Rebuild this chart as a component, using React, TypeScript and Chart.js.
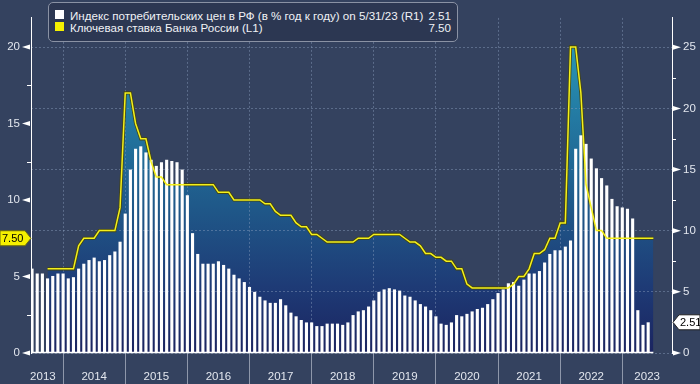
import React, { useEffect, useRef } from 'react';
import { Chart, registerables } from 'chart.js';

Chart.register(...registerables);

// Months are counted from January 2013; a monthly value sits at the end of its month.
const yearLabels = ['2013', '2014', '2015', '2016', '2017', '2018', '2019', '2020', '2021', '2022', '2023'];

const cpiFirstMonth = 5; // June 2013
const cpiValues = [
  6.9, 6.5, 6.5, 6.1, 6.3, 6.5, 6.5,
  6.1, 6.2, 6.9, 7.3, 7.6, 7.8, 7.5, 7.6, 8.0, 8.3, 9.1, 11.4,
  15.0, 16.7, 16.9, 16.4, 15.8, 15.3, 15.6, 15.8, 15.7, 15.6, 15.0, 12.9,
  9.8, 8.1, 7.3, 7.3, 7.3, 7.5, 7.2, 6.9, 6.4, 6.1, 5.8, 5.4,
  5.0, 4.6, 4.3, 4.1, 4.1, 4.4, 3.9, 3.3, 3.0, 2.7, 2.5, 2.5,
  2.2, 2.2, 2.4, 2.4, 2.4, 2.3, 2.5, 3.1, 3.4, 3.5, 3.8, 4.3,
  5.0, 5.2, 5.3, 5.2, 5.1, 4.7, 4.6, 4.3, 4.0, 3.8, 3.5, 3.0,
  2.4, 2.3, 2.5, 3.1, 3.0, 3.2, 3.4, 3.6, 3.7, 4.0, 4.4, 4.9,
  5.2, 5.7, 5.8, 5.5, 6.0, 6.5, 6.5, 6.7, 7.4, 8.1, 8.4, 8.4,
  8.7, 9.2, 16.7, 17.8, 17.1, 15.9, 15.1, 14.3, 13.7, 12.6, 12.0, 11.9,
  11.8, 11.0, 3.5, 2.3, 2.51,
];

const rateFirstMonth = 8; // September 2013
const rateValues = [
  5.5, 5.5, 5.5, 5.5,
  5.5, 5.5, 7.0, 7.5, 7.5, 7.5, 8.0, 8.0, 8.0, 8.0, 9.5, 17.0,
  17.0, 15.0, 14.0, 14.0, 12.5, 11.5, 11.5, 11.0, 11.0, 11.0, 11.0, 11.0,
  11.0, 11.0, 11.0, 11.0, 11.0, 10.5, 10.5, 10.5, 10.0, 10.0, 10.0, 10.0,
  10.0, 10.0, 9.75, 9.75, 9.25, 9.0, 9.0, 9.0, 8.5, 8.25, 8.25, 7.75,
  7.75, 7.5, 7.25, 7.25, 7.25, 7.25, 7.25, 7.25, 7.5, 7.5, 7.5, 7.75,
  7.75, 7.75, 7.75, 7.75, 7.75, 7.5, 7.25, 7.25, 7.0, 6.5, 6.5, 6.25,
  6.25, 6.0, 6.0, 5.5, 5.5, 4.5, 4.25, 4.25, 4.25, 4.25, 4.25, 4.25,
  4.25, 4.25, 4.5, 5.0, 5.0, 5.5, 6.5, 6.5, 6.75, 7.5, 7.5, 8.5,
  8.5, 20.0, 20.0, 17.0, 11.0, 9.5, 8.0, 8.0, 7.5, 7.5, 7.5, 7.5,
  7.5, 7.5, 7.5, 7.5, 7.5, 7.5,
];

const leftTicks = [0, 5, 10, 15, 20];
const rightTicks = [0, 5, 10, 15, 20, 25];
const leftMinorTicks = [2.5, 7.5, 12.5, 17.5];
const rightMinorTicks = [2.5, 7.5, 12.5, 17.5, 22.5];

const cpiLabel = 'Индекс потребительских цен в РФ (в % год к году) on 5/31/23 (R1)';
const rateLabel = 'Ключевая ставка Банка России (L1)';

// layout / style
const X_MIN = 5.8;
const X_MAX = 129.6;
const LEFT_MAX = 21.9;
const RIGHT_MAX = 27.4;
const BG = '#34425f';
const FONT = 'Liberation Sans';
const GRID = 'rgba(140,160,190,0.45)';
const TEXT = '#e2e6ee';

const cpiPoints = cpiValues.map((v, i) => ({ x: cpiFirstMonth + i + 1, y: v }));
const ratePoints = rateValues.map((v, i) => ({ x: rateFirstMonth + i + 1, y: v }));

type XT = { value: number; label: string; boundary: boolean };
const xTicks: XT[] = [];
yearLabels.forEach((lab, k) => {
  const a = Math.max(k * 12, X_MIN);
  const b = Math.min(k * 12 + 12, X_MAX);
  if (k > 0) xTicks.push({ value: k * 12, label: '', boundary: true });
  xTicks.push({ value: (a + b) / 2 - (k === 0 ? 0.8 : 0), label: lab, boundary: false });
});
xTicks.sort((p, q) => p.value - q.value);
const isBoundary = (v: number) => xTicks.some((t) => t.boundary && Math.abs(t.value - v) < 1e-6);

const decor = {
  id: 'decor',
  afterDatasetsDraw(chart: any) {
    const { ctx, chartArea, scales } = chart;
    const xEnd = scales.x.getPixelForValue(rateFirstMonth + rateValues.length);
    ctx.save();
    ctx.strokeStyle = '#ffffff';
    ctx.lineWidth = 1.5;
    ctx.beginPath();
    ctx.moveTo(chartArea.left, chartArea.bottom - 0.5);
    ctx.lineTo(xEnd, chartArea.bottom - 0.5);
    ctx.stroke();
    ctx.restore();
  },
  afterDraw(chart: any) {
    const { ctx, chartArea, scales } = chart;
    const yL = scales.y;
    const yR = scales.y1;
    const L = chartArea.left;
    const R = chartArea.right;
    ctx.save();
    ctx.fillStyle = '#ffffff';
    ctx.strokeStyle = '#ffffff';
    ctx.lineWidth = 1;
    leftTicks.forEach((v) => {
      const y = yL.getPixelForValue(v);
      ctx.beginPath();
      ctx.moveTo(L - 9, y);
      ctx.lineTo(L - 1, y - 2.5);
      ctx.lineTo(L - 1, y + 2.5);
      ctx.closePath();
      ctx.fill();
    });
    leftMinorTicks.forEach((v) => {
      const y = Math.round(yL.getPixelForValue(v)) + 0.5;
      ctx.beginPath();
      ctx.moveTo(L - 4, y);
      ctx.lineTo(L, y);
      ctx.stroke();
    });
    rightTicks.forEach((v) => {
      const y = yR.getPixelForValue(v);
      ctx.beginPath();
      ctx.moveTo(R + 9, y);
      ctx.lineTo(R + 1, y - 2.5);
      ctx.lineTo(R + 1, y + 2.5);
      ctx.closePath();
      ctx.fill();
    });
    rightMinorTicks.forEach((v) => {
      const y = Math.round(yR.getPixelForValue(v)) + 0.5;
      ctx.beginPath();
      ctx.moveTo(R, y);
      ctx.lineTo(R + 4, y);
      ctx.stroke();
    });

    // value tags
    ctx.font = `11px "${FONT}"`;
    ctx.textBaseline = 'middle';
    const rateLast = rateValues[rateValues.length - 1];
    const cy1 = yL.getPixelForValue(rateLast);
    ctx.fillStyle = '#f5f000';
    ctx.strokeStyle = '#6b6a10';
    ctx.beginPath();
    ctx.moveTo(0, cy1 - 7.5);
    ctx.lineTo(L - 6, cy1 - 7.5);
    ctx.lineTo(L, cy1);
    ctx.lineTo(L - 6, cy1 + 7.5);
    ctx.lineTo(0, cy1 + 7.5);
    ctx.closePath();
    ctx.fill();
    ctx.stroke();
    ctx.fillStyle = '#000000';
    ctx.textAlign = 'left';
    ctx.fillText(rateLast.toFixed(2), 2, cy1 + 0.5);

    const cpiLast = cpiValues[cpiValues.length - 1];
    const cy2 = yR.getPixelForValue(cpiLast);
    ctx.fillStyle = '#ffffff';
    ctx.strokeStyle = '#222222';
    ctx.beginPath();
    ctx.moveTo(R + 1, cy2);
    ctx.lineTo(R + 7, cy2 - 7.5);
    ctx.lineTo(700, cy2 - 7.5);
    ctx.lineTo(700, cy2 + 7.5);
    ctx.lineTo(R + 7, cy2 + 7.5);
    ctx.closePath();
    ctx.fill();
    ctx.stroke();
    ctx.fillStyle = '#000000';
    ctx.fillText(cpiLast.toFixed(2), R + 8, cy2 + 0.5);
    ctx.restore();
  },
};

export default function App() {
  const canvasRef = useRef<HTMLCanvasElement>(null);

  useEffect(() => {
    const canvas = canvasRef.current;
    if (!canvas) return;
    Chart.defaults.font.family = FONT;
    Chart.defaults.font.size = 11;

    const gradient = (c: any) => {
      const chart = c.chart;
      const area = chart.chartArea;
      if (!area) return '#1f5a8a';
      const g = chart.ctx.createLinearGradient(0, area.top, 0, area.bottom);
      g.addColorStop(0, '#2ba0bb');
      g.addColorStop(0.3, '#2379a2');
      g.addColorStop(0.55, '#1f5a8a');
      g.addColorStop(0.8, '#1e3b76');
      g.addColorStop(1, '#1b2460');
      return g;
    };

    const chart = new Chart(canvas, {
      type: 'bar',
      data: {
        datasets: [
          {
            type: 'line',
            label: rateLabel,
            data: ratePoints,
            yAxisID: 'y',
            borderColor: '#f4f01c',
            borderWidth: 1.5,
            pointRadius: 0,
            fill: false,
            tension: 0,
            order: 0,
          } as any,
          {
            type: 'bar',
            label: cpiLabel,
            data: cpiPoints,
            yAxisID: 'y1',
            backgroundColor: '#ffffff',
            borderWidth: 0,
            barPercentage: 0.6,
            categoryPercentage: 1,
            order: 1,
          } as any,
          {
            type: 'line',
            label: rateLabel + ' area',
            data: ratePoints,
            yAxisID: 'y',
            borderColor: 'rgba(70,70,10,0.9)',
            borderWidth: 3.2,
            pointRadius: 0,
            fill: 'origin',
            backgroundColor: gradient,
            tension: 0,
            order: 2,
          } as any,
        ],
      },
      options: {
        responsive: false,
        animation: false,
        events: [],
        layout: { padding: 0 },
        plugins: {
          legend: { display: false },
          tooltip: { enabled: false },
          filler: { drawTime: 'beforeDraw' },
        } as any,
        scales: {
          x: {
            type: 'linear',
            position: 'bottom',
            min: X_MIN,
            max: X_MAX,
            offset: false,
            afterBuildTicks: (s: any) => {
              s.ticks = xTicks.map((t) => ({ value: t.value }));
            },
            afterFit: (s: any) => {
              s.height = 31;
            },
            ticks: {
              autoSkip: false,
              maxRotation: 0,
              minRotation: 0,
              padding: -14,
              color: TEXT,
              font: { size: 11.5 },
              callback: (_v: any, i: number) => xTicks[i].label,
            },
            grid: {
              offset: false,
              drawOnChartArea: true,
              drawTicks: true,
              tickLength: 31,
              lineWidth: 1,
              color: (c: any) => (c.tick && isBoundary(c.tick.value) ? GRID : 'transparent'),
              tickColor: (c: any) => (c.tick && isBoundary(c.tick.value) ? '#8e97aa' : 'transparent'),
              tickBorderDash: [],
            },
            border: { display: false, dash: [2, 2] },
          } as any,
          y: {
            type: 'linear',
            position: 'left',
            min: 0,
            max: LEFT_MAX,
            afterBuildTicks: (s: any) => {
              s.ticks = leftTicks.map((v) => ({ value: v }));
            },
            afterFit: (s: any) => {
              s.width = 31;
            },
            ticks: { color: TEXT, padding: 11, font: { size: 11.5 } },
            grid: { drawOnChartArea: false, drawTicks: false },
            border: { display: true, color: '#ffffff', width: 1 },
          } as any,
          y1: {
            type: 'linear',
            position: 'right',
            min: 0,
            max: RIGHT_MAX,
            afterBuildTicks: (s: any) => {
              s.ticks = rightTicks.map((v) => ({ value: v }));
            },
            afterFit: (s: any) => {
              s.width = 28;
            },
            ticks: { color: TEXT, padding: 11, font: { size: 11.5 } },
            grid: { drawOnChartArea: true, drawTicks: false, color: GRID, lineWidth: 1 },
            border: { display: true, color: '#ffffff', width: 1, dash: [2, 2] },
          } as any,
        },
      },
      plugins: [decor],
    } as any);

    return () => chart.destroy();
  }, []);

  const rateLast = rateValues[rateValues.length - 1].toFixed(2);
  const cpiLast = cpiValues[cpiValues.length - 1].toFixed(2);

  const rowStyle: React.CSSProperties = {
    position: 'absolute',
    left: 21,
    right: 6,
    height: 13,
    lineHeight: '13px',
    display: 'flex',
    justifyContent: 'space-between',
    whiteSpace: 'nowrap',
  };

  return (
    <div
      style={{
        position: 'fixed',
        left: 0,
        top: 0,
        width: 700,
        height: 384,
        background: BG,
        overflow: 'hidden',
      }}
    >
      <canvas ref={canvasRef} width={700} height={384} style={{ display: 'block' }} />
      <div
        style={{
          position: 'absolute',
          left: 48,
          top: 2,
          width: 410,
          height: 40,
          boxSizing: 'border-box',
          border: '1px solid #8a92a4',
          borderRadius: 5,
          background: '#2c3752',
          fontFamily: FONT,
          fontSize: 11.6,
          color: '#f0f2f6',
        }}
      >
        <div style={{ position: 'absolute', left: 6, top: 7, width: 9, height: 9, background: '#ffffff' }} />
        <div style={{ position: 'absolute', left: 6, top: 19, width: 9, height: 9, background: '#f5f000' }} />
        <div style={{ ...rowStyle, top: 6 }}>
          <span>{cpiLabel}</span>
          <span>{cpiLast}</span>
        </div>
        <div style={{ ...rowStyle, top: 18 }}>
          <span>{rateLabel}</span>
          <span>{rateLast}</span>
        </div>
      </div>
    </div>
  );
}
